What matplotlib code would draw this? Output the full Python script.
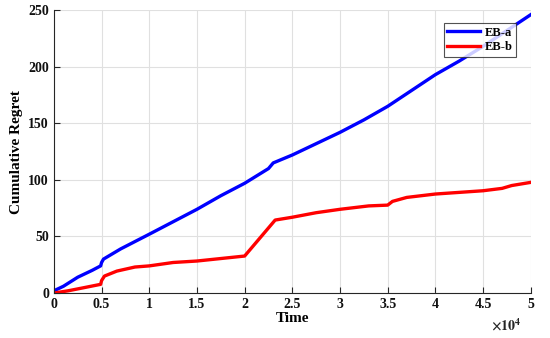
import matplotlib
matplotlib.use("Agg")
import matplotlib.pyplot as plt

plt.rcParams['font.family'] = ['Liberation Serif', 'DejaVu Serif']
plt.rcParams['font.weight'] = 'bold'
plt.rcParams['mathtext.fontset'] = 'stix'

# EB-a (blue)
t_a = [0, 1000, 2500, 4000, 4900, 5000, 5200, 7000, 10000, 12500, 15000, 17500, 20000,
       22500, 23000, 25000, 27500, 30000, 32500, 35000, 37500, 40000, 42500, 45000, 47500, 50000]
y_a = [2, 6, 14, 20, 24, 27, 30, 39, 52, 63, 74, 86, 97,
       110, 115, 122, 132, 142, 153, 165, 179, 193, 205, 218, 232, 246]

# EB-b (red)
t_b = [0, 1500, 3000, 4900, 5000, 5300, 6600, 8500, 10000, 12500, 15000, 17500, 20000,
       23200, 25000, 27500, 30000, 33000, 35000, 35500, 37000, 40000, 45000, 47000, 48000, 50000]
y_b = [0, 2, 4.5, 7.7, 11, 15, 19.4, 23, 24, 27, 28.3, 30.5, 32.7,
       64.5, 67, 71, 74, 77, 77.7, 81, 84.5, 87.5, 90.4, 92.5, 95, 97.8]

xticks = [0, 5000, 10000, 15000, 20000, 25000, 30000, 35000, 40000, 45000, 50000]
xtick_labels = ['0', '0.5', '1', '1.5', '2', '2.5', '3', '3.5', '4', '4.5', '5']
yticks = [0, 50, 100, 150, 200, 250]

fig = plt.figure(figsize=(5.5, 3.38), dpi=100)
ax = fig.add_axes([0.098, 0.133, 0.867, 0.837])

ax.plot(t_a, y_a, color='#0000ff', lw=2.4, label='EB-a')
ax.plot(t_b, y_b, color='#ff0000', lw=2.4, label='EB-b')

ax.set_xlim(0, 50000)
ax.set_ylim(0, 250)
ax.set_xticks(xticks)
ax.set_xticklabels(xtick_labels)
ax.set_yticks(yticks)
ax.grid(True, color='#e0e0e0', lw=0.8)
ax.set_axisbelow(True)
for s in ['top', 'right']:
    ax.spines[s].set_visible(False)
for s in ['left', 'bottom']:
    ax.spines[s].set_color('#262626')
    ax.spines[s].set_linewidth(0.8)
ax.tick_params(direction='in', length=4, width=0.8, labelsize=10, colors='#262626',
               labelcolor='#111111')
for lab in ax.get_xticklabels() + ax.get_yticklabels():
    lab.set_fontweight('bold')

ax.set_xlabel('Time', fontsize=11, fontweight='bold', labelpad=1)
ax.set_ylabel('Cumulative Regret', fontsize=11, fontweight='bold', labelpad=4)

fig.text(0.893, 0.012, r'$\times\mathbf{10^{4}}$', fontsize=10, ha='left', va='bottom',
         color='#262626')

leg = ax.legend(loc='upper right', bbox_to_anchor=(0.97, 0.955), fontsize=9,
                frameon=True, fancybox=False, handlelength=2.6, handletextpad=0.4,
                borderpad=0.3, labelspacing=0.2, borderaxespad=0)
leg.get_frame().set_edgecolor('#262626')
leg.get_frame().set_linewidth(0.8)
for t in leg.get_texts():
    t.set_fontweight('bold')

fig.savefig('out.png', dpi=100)
